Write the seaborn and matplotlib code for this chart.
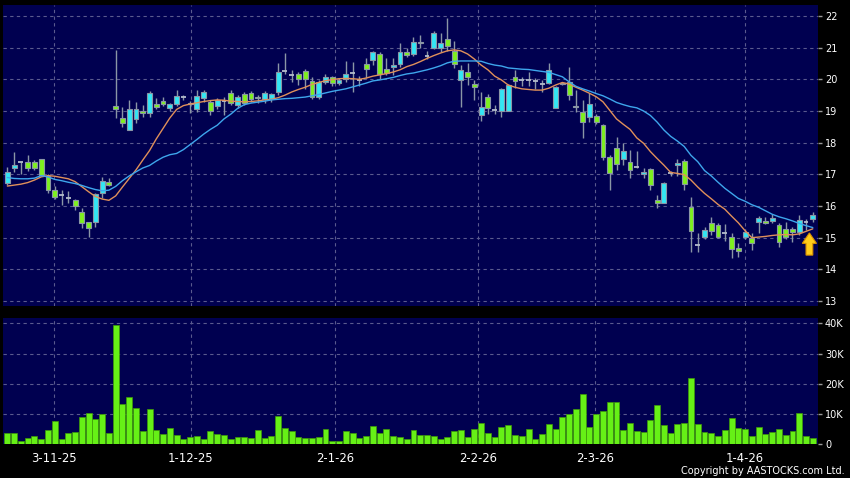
import numpy as np
import pandas as pd
import matplotlib
matplotlib.use("Agg")
import matplotlib.pyplot as plt
import seaborn as sns
from matplotlib.patches import FancyArrow

# ------------------------------------------------
# Data (one value per trading day)
# ------------------------------------------------
opens = [16.74, 17.21, 17.38, 17.38, 17.38, 17.47, 16.96, 16.51, 16.35, 16.24,
         16.19, 15.80, 15.48, 15.51, 16.40, 16.77, 19.16, 18.77, 18.40, 18.75,
         19.00, 18.93, 19.21, 19.32, 19.11, 19.21, 19.45, 19.26, 19.05, 19.40,
         19.29, 19.16, 19.32, 19.58, 19.19, 19.54, 19.56, 19.45, 19.38, 19.37,
         19.61, 20.27, 20.14, 20.16, 20.27, 19.96, 19.43, 19.93, 20.08, 19.89,
         20.00, 20.19, 19.98, 20.47, 20.61, 20.79, 20.32, 20.38, 20.47, 20.85,
         20.79, 21.19, 20.75, 20.98, 20.98, 21.27, 20.90, 19.98, 20.22, 19.85,
         18.87, 19.45, 19.03, 19.00, 19.00, 20.08, 19.98, 19.98, 19.96, 19.85,
         19.89, 19.09, 19.89, 19.93, 19.17, 18.98, 18.82, 18.83, 18.56, 17.56,
         17.82, 17.47, 17.40, 17.24, 17.01, 17.16, 16.19, 16.09, 17.03, 17.29,
         17.41, 15.98, 14.77, 15.03, 15.47, 15.40, 15.14, 15.03, 14.69, 15.03,
         15.00, 15.49, 15.54, 15.53, 15.40, 15.29, 15.26, 15.19, 15.51, 15.58]
highs = [17.24, 17.72, 17.40, 17.61, 17.45, 17.50, 17.00, 16.62, 16.50, 16.47,
         16.22, 15.93, 15.50, 16.42, 16.93, 16.88, 20.93, 19.14, 19.35, 19.29,
         19.20, 19.64, 19.40, 19.45, 19.25, 19.66, 19.52, 19.32, 19.66, 19.66,
         19.35, 19.40, 19.45, 19.66, 19.50, 19.60, 19.62, 19.50, 19.62, 19.58,
         20.51, 20.82, 20.29, 20.24, 20.34, 20.06, 19.99, 20.17, 20.12, 20.05,
         20.58, 20.56, 20.10, 20.66, 20.90, 20.85, 20.66, 20.66, 21.14, 20.98,
         21.35, 21.40, 20.90, 21.52, 21.45, 21.93, 21.20, 20.45, 20.50, 19.98,
         19.61, 19.55, 19.20, 19.72, 19.85, 20.30, 20.08, 20.22, 20.03, 19.98,
         20.50, 19.80, 19.93, 20.40, 19.66, 19.35, 19.56, 18.92, 18.60, 17.60,
         18.19, 17.98, 17.77, 17.74, 17.20, 17.20, 16.35, 16.77, 17.09, 17.50,
         17.50, 16.29, 15.14, 15.35, 15.66, 15.45, 15.43, 15.14, 14.84, 15.27,
         15.14, 15.68, 15.66, 15.74, 15.45, 15.50, 15.35, 15.71, 15.60, 15.80]
lows = [16.66, 17.08, 17.00, 17.10, 17.15, 16.95, 16.40, 16.22, 16.03, 16.10,
        15.87, 15.30, 15.03, 15.33, 16.25, 16.62, 18.77, 18.49, 18.40, 18.61,
        18.80, 18.80, 19.05, 19.15, 19.00, 19.15, 19.35, 18.95, 18.98, 19.30,
        18.87, 19.05, 18.87, 19.20, 19.10, 19.20, 19.30, 19.25, 19.25, 19.30,
        19.50, 20.17, 19.92, 19.82, 19.71, 19.37, 19.37, 19.85, 19.80, 19.82,
        19.92, 19.61, 19.80, 20.03, 20.45, 20.00, 20.15, 20.15, 20.40, 20.72,
        20.75, 21.00, 20.65, 20.95, 20.85, 20.90, 20.35, 19.14, 19.82, 19.35,
        18.70, 18.90, 18.90, 18.80, 19.00, 19.72, 19.80, 19.80, 19.70, 19.60,
        19.85, 19.09, 19.82, 19.35, 18.98, 18.14, 18.66, 18.60, 17.45, 16.50,
        17.14, 17.30, 16.87, 17.20, 16.90, 16.50, 15.95, 16.09, 16.95, 16.95,
        16.50, 14.56, 14.56, 14.95, 15.10, 15.00, 14.90, 14.35, 14.40, 14.95,
        14.61, 15.14, 15.43, 15.45, 14.71, 14.95, 14.85, 15.10, 15.25, 15.50]
closes = [17.08, 17.30, 17.38, 17.21, 17.21, 16.98, 16.51, 16.29, 16.35, 16.24,
          16.00, 15.47, 15.30, 16.38, 16.80, 16.66, 19.05, 18.61, 19.06, 19.06,
          18.93, 19.56, 19.14, 19.22, 19.21, 19.47, 19.45, 19.22, 19.47, 19.61,
          19.00, 19.35, 19.32, 19.24, 19.45, 19.26, 19.37, 19.40, 19.56, 19.53,
          20.24, 20.27, 20.14, 20.00, 20.00, 19.43, 19.93, 20.08, 19.87, 19.98,
          20.17, 20.19, 19.98, 20.32, 20.85, 20.16, 20.21, 20.45, 20.85, 20.77,
          21.19, 21.14, 20.75, 21.45, 21.16, 21.05, 20.48, 20.29, 20.08, 19.75,
          19.14, 19.08, 19.03, 19.68, 19.82, 19.96, 19.98, 19.98, 19.96, 19.85,
          20.31, 19.76, 19.85, 19.50, 19.12, 18.66, 19.21, 18.66, 17.56, 17.05,
          17.33, 17.74, 17.14, 17.24, 17.08, 16.66, 16.09, 16.72, 17.03, 17.35,
          16.69, 15.21, 14.77, 15.24, 15.21, 15.03, 15.14, 14.63, 14.58, 15.19,
          14.82, 15.61, 15.45, 15.61, 14.87, 15.03, 15.19, 15.56, 15.51, 15.72]
ma_short = [16.63, 16.66, 16.69, 16.74, 16.82, 16.92, 16.96, 16.94, 16.90, 16.86,
            16.77, 16.61, 16.45, 16.30, 16.22, 16.18, 16.32, 16.60, 16.87, 17.14,
            17.45, 17.75, 18.12, 18.45, 18.78, 19.05, 19.17, 19.22, 19.26, 19.30,
            19.33, 19.35, 19.34, 19.31, 19.30, 19.29, 19.30, 19.32, 19.35, 19.37,
            19.42, 19.50, 19.60, 19.68, 19.75, 19.84, 19.90, 19.96, 19.99, 20.02,
            20.03, 20.02, 20.00, 20.04, 20.10, 20.14, 20.18, 20.23, 20.30, 20.40,
            20.47, 20.56, 20.66, 20.75, 20.83, 20.90, 20.93, 20.90, 20.80, 20.64,
            20.45, 20.30, 20.10, 19.98, 19.82, 19.75, 19.70, 19.68, 19.66, 19.66,
            19.72, 19.82, 19.90, 19.85, 19.75, 19.66, 19.56, 19.45, 19.29, 19.02,
            18.75, 18.58, 18.42, 18.15, 17.98, 17.72, 17.50, 17.29, 17.06, 17.03,
            16.99, 16.82, 16.60, 16.40, 16.23, 16.05, 15.90, 15.68, 15.47, 15.22,
            15.00, 15.02, 15.04, 15.07, 15.09, 15.10, 15.09, 15.12, 15.20, 15.28]
ma_long = [16.90, 16.87, 16.86, 16.86, 16.88, 16.96, 16.92, 16.84, 16.80, 16.75,
           16.71, 16.65, 16.58, 16.52, 16.48, 16.50, 16.62, 16.80, 16.95, 17.08,
           17.20, 17.28, 17.42, 17.54, 17.62, 17.66, 17.78, 17.94, 18.10, 18.27,
           18.42, 18.55, 18.75, 18.90, 19.08, 19.20, 19.25, 19.28, 19.31, 19.35,
           19.37, 19.39, 19.40, 19.42, 19.44, 19.48, 19.52, 19.57, 19.62, 19.66,
           19.70, 19.76, 19.82, 19.88, 19.95, 19.98, 20.02, 20.06, 20.12, 20.17,
           20.20, 20.25, 20.30, 20.36, 20.43, 20.52, 20.57, 20.58, 20.58, 20.58,
           20.57, 20.50, 20.45, 20.42, 20.36, 20.34, 20.32, 20.31, 20.28, 20.25,
           20.22, 20.15, 20.08, 19.92, 19.78, 19.70, 19.63, 19.55, 19.48, 19.38,
           19.27, 19.20, 19.14, 19.10, 19.00, 18.86, 18.65, 18.40, 18.20, 18.05,
           17.88, 17.60, 17.40, 17.12, 16.95, 16.75, 16.56, 16.40, 16.24, 16.15,
           16.04, 15.96, 15.85, 15.74, 15.66, 15.60, 15.53, 15.45, 15.38, 15.32]
volume_k = [3.7, 3.6, 1.1, 1.9, 2.8, 1.8, 4.5, 7.5, 1.7, 3.5,
            4.1, 9.0, 10.4, 8.2, 10.1, 3.8, 39.5, 13.3, 15.5, 11.8,
            4.2, 11.6, 4.5, 3.4, 5.4, 3.0, 1.8, 2.3, 2.5, 1.5,
            4.3, 3.4, 2.9, 1.8, 2.3, 2.3, 1.9, 4.7, 2.0, 2.6,
            9.2, 5.2, 4.4, 2.4, 1.9, 1.9, 2.4, 5.0, 1.0, 1.0,
            4.2, 3.6, 2.0, 2.8, 6.0, 3.8, 5.1, 2.6, 2.3, 1.5,
            4.5, 2.9, 3.1, 2.8, 1.8, 2.4, 4.4, 4.8, 2.4, 4.9,
            6.9, 3.8, 2.2, 5.8, 6.3, 3.1, 2.6, 5.0, 1.8, 3.3,
            6.7, 5.0, 9.1, 9.8, 11.6, 16.7, 5.7, 9.8, 11.1, 13.8,
            13.9, 4.8, 6.9, 4.4, 4.1, 7.8, 13.0, 6.3, 3.8, 6.6,
            7.0, 21.8, 6.7, 4.0, 3.6, 2.8, 4.8, 8.7, 5.2, 5.0,
            2.8, 5.6, 3.3, 3.9, 5.0, 3.1, 4.4, 10.4, 2.6, 2.0]

date_labels = ["3-11-25", "1-12-25", "2-1-26", "2-2-26", "2-3-26", "1-4-26"]
date_pos = [6.9, 27.1, 48.4, 69.6, 86.8, 109.0]
price_ticks = list(range(13, 23))
vol_ticks = [0, 10, 20, 30, 40]
vol_tick_labels = ["0", "10K", "20K", "30K", "40K"]

df = pd.DataFrame({"open": opens, "high": highs, "low": lows, "close": closes,
                   "ma_short": ma_short, "ma_long": ma_long, "vol": volume_k})
df["idx"] = np.arange(len(df))

# ------------------------------------------------
# Style
# ------------------------------------------------
NAVY = "#000050"
GRID = "#5a5a8e"
UP = "#33e6f4"
DOWN = "#7ef01e"
EDGE = "#8a96a6"
VOL = "#66f016"

sns.set_theme(style="dark", rc={"axes.facecolor": NAVY, "figure.facecolor": "black"})
plt.rcParams["font.family"] = ["DejaVu Sans"]

fig = plt.figure(figsize=(8.5, 4.78), dpi=100)
ax_p = fig.add_axes([3 / 850, 1 - 306 / 478, 815 / 850, 301 / 478])
ax_v = fig.add_axes([3 / 850, 1 - 444 / 478, 815 / 850, 126 / 478])

grid_kw = dict(color=GRID, linestyle=(0, (3, 3)), linewidth=0.8)

# ------------------------------------------------
# Candles
# ------------------------------------------------
ax_p.vlines(df["idx"], df["low"], df["high"], color=EDGE, linewidth=1, zorder=2)
up = df[df["close"] > df["open"]]
down = df[df["close"] < df["open"]]
flat = df[df["close"] == df["open"]]
ax_p.bar(up["idx"], up["close"] - up["open"], bottom=up["open"], width=0.72,
         color=UP, edgecolor=EDGE, linewidth=0.8, zorder=3)
ax_p.bar(down["idx"], down["open"] - down["close"], bottom=down["close"], width=0.72,
         color=DOWN, edgecolor=EDGE, linewidth=0.8, zorder=3)
ax_p.hlines(flat["close"], flat["idx"] - 0.36, flat["idx"] + 0.36,
            color="#b4bccc", linewidth=1.3, zorder=3)

sns.lineplot(data=df, x="idx", y="ma_short", ax=ax_p, color="#e0905a", linewidth=1, zorder=4)
sns.lineplot(data=df, x="idx", y="ma_long", ax=ax_p, color="#3ea6ec", linewidth=1, zorder=4)

# marker arrow on the last bars
ax_p.add_patch(FancyArrow(118.5, 14.45, 0, 0.70, width=1.0, head_width=2.1,
                          head_length=0.33, length_includes_head=True,
                          facecolor="#ffcc1a", edgecolor="#d89000", linewidth=0.8, zorder=5))

ax_p.set_xlim(-0.65, 119.77)
ax_p.set_ylim(12.843, 22.347)
ax_p.set_yticks(price_ticks)
ax_p.set_xticks(date_pos)
ax_p.set_xticklabels([])
ax_p.yaxis.tick_right()
ax_p.tick_params(axis="y", colors="#9a9a9a", labelcolor="white", length=3, width=1,
                 labelsize=7, pad=2)
ax_p.tick_params(axis="x", length=0)
ax_p.grid(True, **grid_kw)
ax_p.set_xlabel("")
ax_p.set_ylabel("")

# ------------------------------------------------
# Volume
# ------------------------------------------------
sns.barplot(data=df, x="idx", y="vol", ax=ax_v, native_scale=True, color=VOL,
            saturation=1, width=0.88, edgecolor="#3f9a08", linewidth=0.5, errorbar=None,
            zorder=3)
ax_v.set_xlim(-0.65, 119.77)
ax_v.set_ylim(0, 41.8)
ax_v.set_yticks(vol_ticks)
ax_v.set_yticklabels(vol_tick_labels)
ax_v.yaxis.tick_right()
ax_v.set_xticks(date_pos)
ax_v.set_xticklabels(date_labels)
ax_v.tick_params(axis="y", colors="#9a9a9a", labelcolor="white", length=3, width=1,
                 labelsize=7, pad=2)
ax_v.tick_params(axis="x", colors="#9a9a9a", labelcolor="white", length=2.5, width=1,
                 labelsize=8.4, pad=3)
ax_v.grid(True, **grid_kw)
ax_v.set_xlabel("")
ax_v.set_ylabel("")

for ax in (ax_p, ax_v):
    for s in ax.spines.values():
        s.set_visible(False)

fig.text(0.994, 1 - 471.5 / 478, "Copyright by AASTOCKS.com Ltd.", ha="right", va="center",
         color="white", fontsize=7)

fig.savefig("out.png", dpi=100, facecolor="black")
